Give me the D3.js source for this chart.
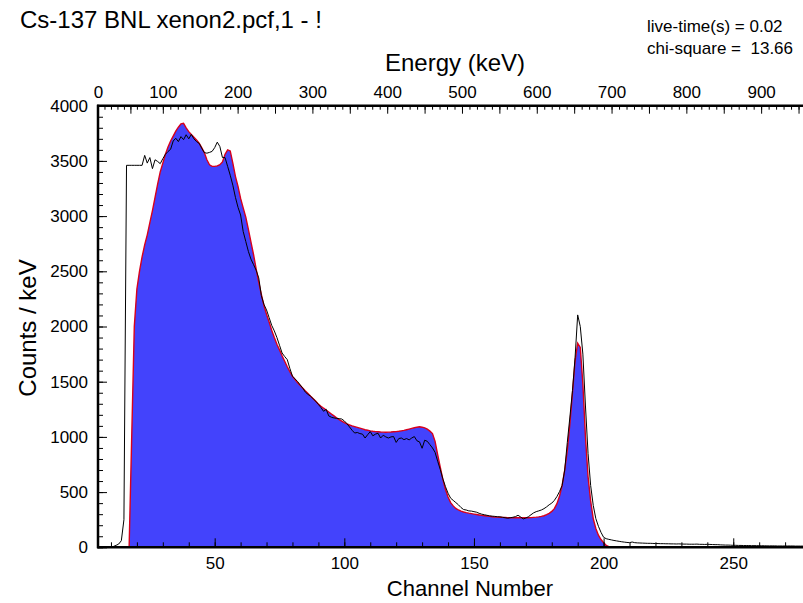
<!DOCTYPE html>
<html>
<head>
<meta charset="utf-8">
<script src="https://cdn.jsdelivr.net/npm/d3@7"></script>
<style>
  html, body { margin: 0; padding: 0; background: #fff; }
  svg text { font-family: "Liberation Sans", Arial, sans-serif; fill: #000; }
</style>
</head>
<body>
<svg id="chart" width="803" height="603"></svg>
<script>
// ---------------- DATA ----------------
const titleText = "Cs-137 BNL xenon2.pcf,1 - !";
const infoLines = ["live-time(s) = 0.02", "chi-square =  13.66"];
const xLabel = "Channel Number";
const yLabel = "Counts / keV";
const topLabel = "Energy (keV)";

const channelTicks = [50, 100, 150, 200, 250];
const countTicks = [0, 500, 1000, 1500, 2000, 2500, 3000, 3500, 4000];
const energyTicks = [0, 100, 200, 300, 400, 500, 600, 700, 800, 900];

// energy calibration (keV -> channel)
const calEnergy = [0, 100, 1000];
const calChannel = [5, 30, 289.6];

// measured spectrum (black line), one value per channel starting at measuredStart
const measuredStart = 5;
const measuredCounts = [
  0, 0, 0, 0, 0, 3, 8, 18, 30, 60, 250,
  3460, 3460, 3460, 3460, 3460, 3460, 3460,
  3550, 3480, 3530, 3430, 3510, 3495, 3475, 3520, 3560, 3585, 3605, 3680, 3705, 3675, 3720,
  3692, 3737, 3700, 3740, 3700, 3675, 3660, 3615, 3575, 3570, 3577, 3586, 3620, 3670, 3630,
  3530, 3530, 3450, 3370, 3280, 3170, 3080, 3010, 2860, 2770, 2680, 2610, 2560, 2510, 2440,
  2280, 2200, 2150, 2080, 2010, 1960, 1900, 1830, 1760, 1728, 1700, 1620, 1550, 1525, 1501,
  1470, 1441, 1405, 1385, 1368, 1345, 1322, 1295, 1265, 1232, 1250, 1190, 1178, 1172, 1168,
  1165, 1162,
  1145, 1120, 1090, 1060, 1035, 1040, 1030, 1025, 990, 1020, 1048, 1010, 1025, 1033, 990,
  1015, 1000, 990, 1000, 1003, 950, 985, 990, 975, 985, 973, 990, 1003, 965, 955, 897, 970,
  960, 930, 900, 860, 780, 705, 620, 550, 490,
  445, 425, 405, 385, 360, 342, 338, 330, 328, 323, 318, 308, 300, 295, 290, 285, 282, 280,
  277, 276, 272, 268, 263, 268, 272, 278, 290, 275, 257, 265, 277, 295, 312, 323, 330, 338,
  350, 366, 385, 400,
  425, 460, 505, 560, 700, 950, 1180, 1420, 1720, 2105, 2000, 1750, 1280, 850, 560, 380,
  260, 190, 135, 91,
  78, 72, 67, 62, 58, 54, 50, 47, 44, 42, 48, 42, 40, 39, 38, 37, 36, 36, 35, 34, 34, 33,
  33, 32, 32, 31, 31, 30, 31, 30, 29, 29, 28, 28, 28, 29, 27, 27, 26, 27, 26, 25, 24, 24,
  22, 21, 20, 20, 19, 18, 18, 17, 17, 16, 16, 16, 15, 15, 15, 14, 14, 14, 13, 13, 13, 13,
  12, 12, 12, 12, 12, 12, 12, 11, 11, 11, 11
];

// fitted spectrum (blue area with red outline)
const fitStart = 17;
const fitCounts = [
  0, 1000, 2000, 2340, 2500, 2630, 2740, 2830, 2940, 3050, 3170, 3290, 3400, 3480, 3560,
  3625, 3680, 3725, 3770, 3805, 3835, 3840, 3800, 3765, 3740, 3715, 3690, 3660, 3620, 3575,
  3510, 3465, 3450, 3450, 3455, 3465, 3490, 3560, 3600, 3590, 3480, 3360, 3270, 3160, 3075,
  2990, 2880, 2765, 2650, 2520,
  2400, 2290, 2190, 2110, 2040, 1965, 1900, 1840, 1788, 1735, 1685, 1635, 1590, 1548, 1520,
  1490, 1465, 1440, 1415, 1392, 1368, 1346, 1322, 1297, 1278, 1260, 1244, 1226, 1208, 1190,
  1172, 1156, 1143, 1130, 1118, 1108, 1100, 1093, 1086, 1079, 1072, 1065, 1060, 1055, 1051,
  1048, 1046, 1044, 1043, 1042, 1043, 1044, 1046, 1048, 1051, 1055, 1059, 1065, 1071, 1077,
  1083, 1088, 1092, 1088, 1082, 1070, 1052, 1030,
  960, 840, 725, 615, 525, 455, 405, 375, 352, 338, 328, 320, 314, 309, 305, 301, 297, 293,
  289, 286, 283, 280, 277, 275, 273, 272, 271, 270, 269, 268, 268, 267, 267, 267, 267, 268,
  268, 269, 271, 273, 276, 280, 286, 295, 308, 325, 350, 395, 465, 560, 700, 880, 1120, 1400,
  1690, 1849, 1810, 1480, 1000, 640, 420, 260, 170, 110, 70, 42, 18, 6, 0
];

// ---------------- LAYOUT ----------------
const svg = d3.select("#chart");
const L = 98, R = 803, T = 105.7, B = 547.3;

const x = d3.scaleLinear().domain([5, 276.9]).range([L, R]);
const y = d3.scaleLinear().domain([0, 4000]).range([B, T]);
const xE = d3.scaleLinear().domain(calEnergy).range(calChannel.map(c => x(c)));

const measured = measuredCounts.map((v, i) => ({ ch: measuredStart + i, v }));
const fit = fitCounts.map((v, i) => ({ ch: fitStart + i, v }));

svg.append("defs").append("clipPath").attr("id", "plotclip")
  .append("rect").attr("x", L).attr("y", T - 2).attr("width", R - L).attr("height", B - T + 2);

const g = svg.append("g").attr("clip-path", "url(#plotclip)");

g.append("path").datum(fit)
  .attr("fill", "#4343fc")
  .attr("d", d3.area().x(d => x(d.ch)).y0(y(0)).y1(d => y(d.v)));

g.append("path").datum(fit)
  .attr("fill", "none").attr("stroke", "#d8001c").attr("stroke-width", 1.4)
  .attr("d", d3.line().x(d => x(d.ch)).y(d => y(d.v)));

g.append("path").datum(measured)
  .attr("fill", "none").attr("stroke", "#000").attr("stroke-width", 1)
  .attr("d", d3.line().x(d => x(d.ch)).y(d => y(d.v)));

// ---------------- AXES ----------------
const tickFont = "17px";

// left axis
const minorCounts = d3.range(0, 4001, 100);
const gl = svg.append("g").attr("transform", `translate(${L},0)`);
gl.call(d3.axisLeft(y).tickValues(minorCounts).tickSize(-5).tickFormat(""));
gl.append("g").call(d3.axisLeft(y).tickValues(countTicks).tickSize(-9).tickPadding(10).tickFormat(d3.format("d")));
gl.selectAll("text").style("font-size", tickFont);
gl.selectAll(".domain").remove();

// bottom axis
const minorCh = d3.range(10, 277, 10);
const gb = svg.append("g").attr("transform", `translate(0,${B})`);
gb.call(d3.axisBottom(x).tickValues(minorCh).tickSize(-5).tickFormat(""));
gb.append("g").call(d3.axisBottom(x).tickValues(channelTicks).tickSize(-9).tickPadding(10).tickFormat(d3.format("d")));
gb.selectAll("text").style("font-size", tickFont);
gb.selectAll(".domain").remove();

// top axis (energy)
const minorE = d3.range(0, 1000, 10).filter(e => xE(e) >= L && xE(e) <= R);
const majorE = d3.range(0, 1000, 50).filter(e => xE(e) >= L && xE(e) <= R);
const gt = svg.append("g").attr("transform", `translate(0,${T})`);
gt.call(d3.axisTop(xE).tickValues(minorE).tickSize(-4).tickFormat(""));
gt.append("g").call(d3.axisTop(xE).tickValues(majorE).tickSize(-8).tickFormat(""));
gt.append("g").call(d3.axisTop(xE).tickValues(energyTicks).tickSize(0).tickPadding(8).tickFormat(d3.format("d")));
gt.selectAll("text").style("font-size", tickFont);
gt.selectAll(".domain").remove();

svg.selectAll(".tick line").attr("stroke", "#000").attr("stroke-width", 1);

// axis lines
svg.append("line").attr("x1", L).attr("x2", L).attr("y1", T - 1).attr("y2", B + 1)
  .attr("stroke", "#000").attr("stroke-width", 2.5);
svg.append("line").attr("x1", L - 1).attr("x2", R).attr("y1", B).attr("y2", B)
  .attr("stroke", "#000").attr("stroke-width", 2.5);
svg.append("line").attr("x1", L - 1).attr("x2", R).attr("y1", T).attr("y2", T)
  .attr("stroke", "#000").attr("stroke-width", 2.5);

// ---------------- TEXT ----------------
svg.append("text").attr("x", 20).attr("y", 28).style("font-size", "24px").text(titleText);
svg.append("text").attr("x", 455).attr("y", 71).attr("text-anchor", "middle")
  .style("font-size", "24px").text(topLabel);
svg.append("text").attr("x", 470).attr("y", 596).attr("text-anchor", "middle")
  .style("font-size", "22px").text(xLabel);
svg.append("text").attr("transform", "translate(36,328) rotate(-90)").attr("text-anchor", "middle")
  .style("font-size", "24px").text(yLabel);
infoLines.forEach((t, i) => {
  svg.append("text").attr("x", 647).attr("y", 32 + i * 22).style("font-size", "17px")
    .attr("xml:space", "preserve").style("white-space", "pre").text(t);
});
</script>
</body>
</html>
